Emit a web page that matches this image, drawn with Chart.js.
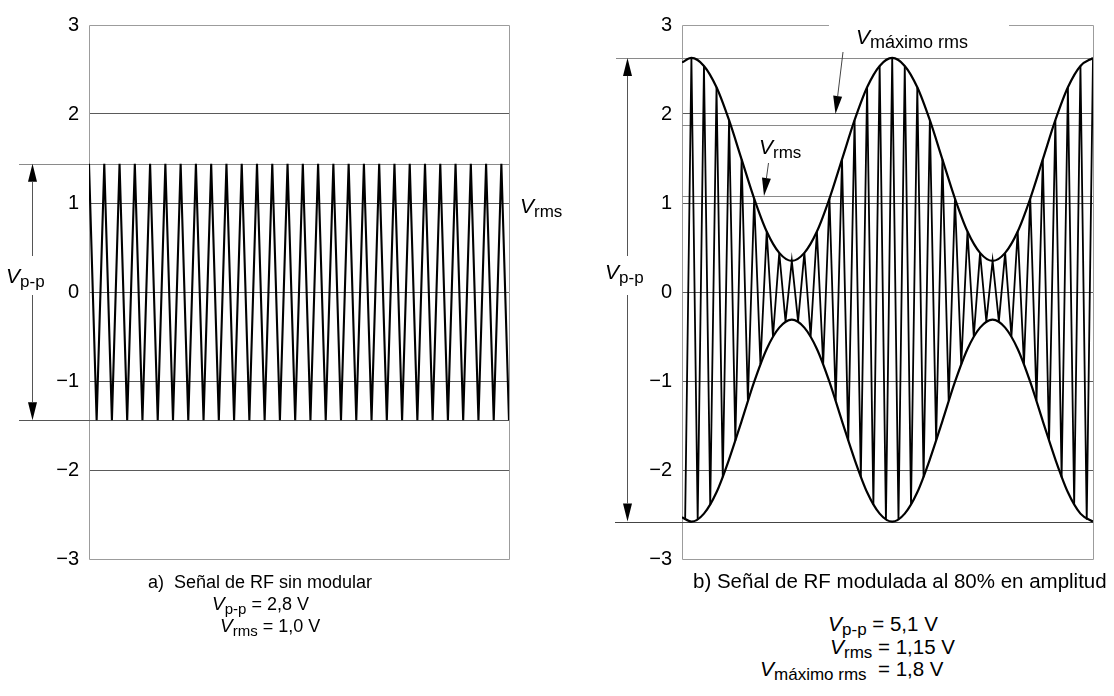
<!DOCTYPE html>
<html><head><meta charset="utf-8">
<script src="https://cdn.jsdelivr.net/npm/chart.js@4/dist/chart.umd.min.js"></script>
<style>
html,body{margin:0;padding:0;background:#fff;width:1114px;height:696px;overflow:hidden;font-family:"Liberation Sans",Arial,sans-serif;color:#000}
canvas{position:absolute;top:0}
#c1{left:0}
#c2{left:560px}
.lbl{position:absolute;white-space:nowrap;font-size:18px;line-height:20px}
.lbl i{font-size:19px}
.lbl sub{font-size:15px;vertical-align:baseline;position:relative;top:4px}
.big i{font-size:21px}
.big sub{font-size:17px}
.cap2{font-size:20.5px}
.cap2 i{font-size:21px}
.cap2 sub{font-size:17px}
</style></head><body>
<canvas id="c1" width="560" height="600"></canvas>
<canvas id="c2" width="554" height="600"></canvas>

<div class="lbl big" style="left:520px;top:196px"><i>V</i><sub>rms</sub></div>
<div class="lbl big" style="left:6px;top:266px"><i>V</i><sub>p-p</sub></div>
<div class="lbl big" style="left:605px;top:262px"><i>V</i><sub>p-p</sub></div>
<div class="lbl big" style="left:856px;top:27px"><i>V</i><sub style="font-size:18px">máximo rms</sub></div>
<div class="lbl big" style="left:759px;top:137px"><i>V</i><sub>rms</sub></div>

<div class="lbl" style="left:148px;top:572px">a)&nbsp; Señal de RF sin modular</div>
<div class="lbl" style="left:212px;top:594px"><i>V</i><sub>p-p</sub> = 2,8 V</div>
<div class="lbl" style="left:220px;top:616px"><i>V</i><sub>rms</sub> = 1,0 V</div>

<div class="lbl cap2" style="left:693px;top:571px">b) Señal de RF modulada al 80% en amplitud</div>
<div class="lbl cap2" style="left:828px;top:614px"><i>V</i><sub>p-p</sub> = 5,1 V</div>
<div class="lbl cap2" style="left:830px;top:637px"><i>V</i><sub>rms</sub> = 1,15 V</div>
<div class="lbl cap2" style="left:760px;top:659px"><i>V</i><sub>máximo rms</sub>&nbsp; = 1,8 V</div>

<script>
// ---------- data ----------
const yTickValues = [-3, -2, -1, 0, 1, 2, 3];

// a) unmodulated RF: x in carrier half-cycles
const leftX = [0,1,2,3,4,5,6,7,8,9,10,11,12,13,14,15,16,17,18,19,20,21,22,23,24,25,26,27,
               28,29,30,31,32,33,34,35,36,37,38,39,40,41,42,43,44,45,46,47,48,49,50,51,52,53,54,55];
const leftY = [1.44,-1.44,1.44,-1.44,1.44,-1.44,1.44,-1.44,1.44,-1.44,1.44,-1.44,1.44,-1.44,
               1.44,-1.44,1.44,-1.44,1.44,-1.44,1.44,-1.44,1.44,-1.44,1.44,-1.44,1.44,-1.44,
               1.44,-1.44,1.44,-1.44,1.44,-1.44,1.44,-1.44,1.44,-1.44,1.44,-1.44,1.44,-1.44,
               1.44,-1.44,1.44,-1.44,1.44,-1.44,1.44,-1.44,1.44,-1.44,1.44,-1.44,1.44,-1.44];
const leftPeakLevels = [1.44, -1.44];
const leftRmsLevel = 1.0;

// b) 80% AM RF
const carrierX = [0.5,1.5,2.5,3.5,4.5,5.5,6.5,7.5,8.5,9.5,10.5,11.5,12.5,13.5,14.5,15.5,16.5,17.5,
                  18.5,19.5,20.5,21.5,22.5,23.5,24.5,25.5,26.5,27.5,28.5,29.5,30.5,31.5,32.5,33.5,
                  34.5,35.5,36.5,37.5,38.5,39.5,40.5,41.5,42.5,43.5,44.5,45.5,46.5,47.5,48.5,49.5,
                  50.5,51.5,52.5,53.5,54.5,55.5,56.5,57.5,58.5,59.5,60.5,61.5,62.5,63.5,64.5,65.5];
const carrierY = [-2.56,2.63,-2.56,2.54,-2.39,2.30,-2.08,1.93,-1.67,1.49,-1.22,1.05,-0.81,0.68,-0.50,0.44,
                  -0.33,0.35,-0.33,0.44,-0.50,0.68,-0.81,1.05,-1.22,1.49,-1.67,1.93,-2.08,2.30,-2.39,2.54,
                  -2.56,2.63,-2.56,2.54,-2.39,2.30,-2.08,1.93,-1.67,1.49,-1.22,1.05,-0.81,0.68,-0.50,0.44,
                  -0.33,0.35,-0.33,0.44,-0.50,0.68,-0.81,1.05,-1.22,1.49,-1.67,1.93,-2.08,2.30,-2.39,2.54,
                  -2.56,2.63];
const envX = [0,1.5,3.5,5.5,7.5,9.5,11.5,13.5,15.5,17.5,19.5,21.5,23.5,25.5,27.5,29.5,31.5,33.5,
              35.5,37.5,39.5,41.5,43.5,45.5,47.5,49.5,51.5,53.5,55.5,57.5,59.5,61.5,63.5,65.5];
const envTop = [2.58,2.63,2.54,2.30,1.93,1.49,1.05,0.68,0.44,0.35,0.44,0.68,1.05,1.49,1.93,2.30,2.54,
                2.63,2.54,2.30,1.93,1.49,1.05,0.68,0.44,0.35,0.44,0.68,1.05,1.49,1.93,2.30,2.54,2.63];
const envBot = [-2.53,-2.58,-2.49,-2.25,-1.88,-1.45,-1.01,-0.64,-0.40,-0.31,-0.40,-0.64,-1.01,-1.45,-1.88,-2.25,-2.49,
                -2.58,-2.49,-2.25,-1.88,-1.45,-1.01,-0.64,-0.40,-0.31,-0.40,-0.64,-1.01,-1.45,-1.88,-2.25,-2.49,-2.58];
const rightPeakLevels = [2.63, -2.58];
const rightMaxRmsLevel = 1.88;
const rightRmsLevel = 1.08;

// ---------- helpers ----------
const FONT = '"Liberation Sans", Arial, sans-serif';
const pts = (xs, ys) => xs.map((x, i) => ({x, y: ys[i]}));

function hline(ctx, x0, x1, y, color, w) {
  ctx.beginPath(); ctx.strokeStyle = color; ctx.lineWidth = w || 1;
  const yy = Math.round(y) + 0.5;
  ctx.moveTo(x0, yy); ctx.lineTo(x1, yy); ctx.stroke();
}
function arrowHead(ctx, fx, fy, tx, ty, len, half) {
  const dx = tx - fx, dy = ty - fy, d = Math.hypot(dx, dy), ux = dx / d, uy = dy / d;
  const bx = tx - ux * len, by = ty - uy * len;
  ctx.beginPath(); ctx.fillStyle = '#000';
  ctx.moveTo(tx, ty); ctx.lineTo(bx - uy * half, by + ux * half); ctx.lineTo(bx + uy * half, by - ux * half);
  ctx.closePath(); ctx.fill();
  return [bx, by];
}
function pointer(ctx, fx, fy, tx, ty) {
  const [bx, by] = arrowHead(ctx, fx, fy, tx, ty, 18, 4.5);
  ctx.beginPath(); ctx.strokeStyle = '#444'; ctx.lineWidth = 1;
  ctx.moveTo(fx, fy); ctx.lineTo(bx, by); ctx.stroke();
}
function vpp(ctx, x, yTop, yBot, gap0, gap1) {
  const xx = Math.round(x) + 0.5;
  arrowHead(ctx, xx, yTop + 30, xx, yTop, 18, 4.5);
  arrowHead(ctx, xx, yBot - 30, xx, yBot, 18, 4.5);
  ctx.beginPath(); ctx.strokeStyle = '#555'; ctx.lineWidth = 1;
  ctx.moveTo(xx, yTop + 18); ctx.lineTo(xx, gap0);
  ctx.moveTo(xx, gap1); ctx.lineTo(xx, yBot - 18); ctx.stroke();
}

function decorPlugin(opt) {
  return {
    id: 'decor',
    beforeDatasetsDraw(chart) {
      const {ctx, chartArea: a, scales: {y}} = chart;
      ctx.save();
      ctx.strokeStyle = '#9c9c9c'; ctx.lineWidth = 1;
      const L = Math.round(a.left) + 0.5, R = Math.round(a.right) + 0.5,
            T = Math.round(a.top) + 0.5, B = Math.round(a.bottom) + 0.5;
      ctx.beginPath();
      if (opt.topGap) { ctx.moveTo(L, T); ctx.lineTo(opt.topGap[0], T); ctx.moveTo(opt.topGap[1], T); ctx.lineTo(R, T); }
      else { ctx.moveTo(L, T); ctx.lineTo(R, T); }
      ctx.moveTo(R, T); ctx.lineTo(R, B); ctx.lineTo(L, B); ctx.lineTo(L, T);
      ctx.stroke();
      opt.levels.forEach(l => hline(ctx, l.x0 === undefined ? a.left : l.x0, a.right, y.getPixelForValue(l.v), l.c, 1));
      ctx.restore();
    },
    afterDatasetsDraw(chart) {
      const {ctx, scales: {y}} = chart;
      ctx.save();
      vpp(ctx, opt.vpp.x, y.getPixelForValue(opt.vpp.top), y.getPixelForValue(opt.vpp.bot), opt.vpp.g0, opt.vpp.g1);
      (opt.pointers || []).forEach(p => pointer(ctx, p.fx, p.fy, p.tx, y.getPixelForValue(p.v)));
      ctx.restore();
    }
  };
}

function yScale(width) {
  return {
    type: 'linear', min: -3, max: 3,
    afterFit(s) { s.width = width; },
    afterBuildTicks(s) { s.ticks = yTickValues.map(v => ({value: v})); },
    ticks: {
      color: '#000', padding: 10, font: {family: FONT, size: 20},
      callback: v => v < 0 ? '\u2212' + Math.abs(v) : String(v)
    },
    grid: {
      drawTicks: false, lineWidth: 1,
      color: c => (c.tick && Math.abs(c.tick.value) === 3) ? 'rgba(0,0,0,0)' : '#5a5a5a'
    },
    border: {display: false}
  };
}

Chart.defaults.font.family = FONT;

new Chart(document.getElementById('c1'), {
  type: 'line',
  data: {datasets: [{
    data: pts(leftX, leftY), borderColor: '#000', borderWidth: 2.1,
    pointRadius: 0, tension: 0
  }]},
  options: {
    responsive: false, animation: false, events: [],
    layout: {padding: {top: 25, bottom: 41, left: 0, right: 51}},
    plugins: {legend: {display: false}, tooltip: {enabled: false}},
    scales: {x: {type: 'linear', min: 0, max: 55, display: false}, y: yScale(89)}
  },
  plugins: [decorPlugin({
    levels: [
      {v: leftPeakLevels[0], x0: 19, c: '#8a8a8a'},
      {v: leftPeakLevels[1], x0: 19, c: '#555'}
    ],
    vpp: {x: 32, top: leftPeakLevels[0], bot: leftPeakLevels[1], g0: 256, g1: 295}
  })]
});

new Chart(document.getElementById('c2'), {
  type: 'line',
  data: {datasets: [
    {data: pts(carrierX, carrierY), borderColor: '#000', borderWidth: 1.8, pointRadius: 0, tension: 0},
    {data: pts(envX, envTop), borderColor: '#000', borderWidth: 2.2, pointRadius: 0, cubicInterpolationMode: 'monotone'},
    {data: pts(envX, envBot), borderColor: '#000', borderWidth: 2.2, pointRadius: 0, cubicInterpolationMode: 'monotone'}
  ]},
  options: {
    responsive: false, animation: false, events: [],
    layout: {padding: {top: 25, bottom: 41, left: 0, right: 21}},
    plugins: {legend: {display: false}, tooltip: {enabled: false}},
    scales: {x: {type: 'linear', min: 0, max: 65.5, display: false}, y: yScale(122)}
  },
  plugins: [decorPlugin({
    topGap: [269, 449],
    levels: [
      {v: rightPeakLevels[0], x0: 56, c: '#8a8a8a'},
      {v: rightPeakLevels[1], x0: 55, c: '#444'},
      {v: rightMaxRmsLevel, c: '#8a8a8a'},
      {v: rightRmsLevel, c: '#8a8a8a'}
    ],
    vpp: {x: 67, top: rightPeakLevels[0], bot: rightPeakLevels[1], g0: 256, g1: 295},
    pointers: [
      {fx: 283, fy: 52, tx: 275.5, v: 2.0},
      {fx: 208.5, fy: 163, tx: 204, v: rightRmsLevel}
    ]
  })]
});
</script>
</body></html>
